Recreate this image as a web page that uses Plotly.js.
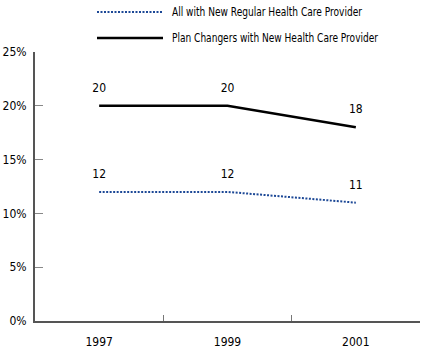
<!DOCTYPE html>
<html><head><meta charset="utf-8">
<script src="https://cdn.plot.ly/plotly-3.0.1.min.js"></script>
<style>html,body{margin:0;padding:0;background:#fff}#c{width:425px;height:352px}</style>
</head><body><div id="c"></div>
<script>
const years = ['1997', '1999', '2001'];
const allNewProvider = [12, 12, 11];
const planChangers = [20, 20, 18];
const seriesNames = ['All with New Regular Health Care Provider', 'Plan Changers with New Health Care Provider'];
const yTicks = [0, 5, 10, 15, 20, 25];
const yTickText = ['0%', '5%', '10%', '15%', '20%', '25%'];

const cond = 'DejaVu Sans Condensed, sans-serif';
const dotDash = '2px,1.5px';

const traces = [
  {x: years, y: allNewProvider, mode: 'lines+markers+text', text: allNewProvider.map(String),
   textposition: 'top center', textfont: {family: cond, size: 12, color: '#000'},
   marker: {size: 16, color: 'rgba(0,0,0,0)'},
   line: {color: '#1c4896', width: 2, dash: dotDash}, name: seriesNames[0], cliponaxis: false},
  {x: years, y: planChangers, mode: 'lines+markers+text', text: planChangers.map(String),
   textposition: 'top center', textfont: {family: cond, size: 12, color: '#000'},
   marker: {size: 16, color: 'rgba(0,0,0,0)'},
   line: {color: '#000', width: 2.5}, name: seriesNames[1], cliponaxis: false}
];

const layout = {
  width: 425, height: 352,
  margin: {l: 35, r: 5, t: 52, b: 31},
  paper_bgcolor: '#fff', plot_bgcolor: '#fff',
  showlegend: false,
  xaxis: {type: 'category', range: [-0.5, 2.5], tickson: 'boundaries', ticks: 'inside', ticklen: 6,
    tickcolor: '#777', showline: true, linecolor: '#555', linewidth: 2, showgrid: false, zeroline: false,
    ticklabelstandoff: 9,
    tickfont: {family: cond, size: 12, color: '#000'}, fixedrange: true},
  yaxis: {range: [0, 25], tickvals: yTicks, ticktext: yTickText, ticks: 'inside', ticklen: 8,
    tickcolor: '#888', showline: true, linecolor: '#555', linewidth: 2, showgrid: false, zeroline: false,
    ticklabelstandoff: 4,
    tickfont: {family: cond, size: 12, color: '#000'}, fixedrange: true},
  shapes: [
    {type: 'line', xref: 'paper', yref: 'paper', x0: (97-35)/385, x1: (163-35)/385,
     y0: (321-12)/269, y1: (321-12)/269, line: {color: '#1c4896', width: 2, dash: dotDash}},
    {type: 'line', xref: 'paper', yref: 'paper', x0: (97-35)/385, x1: (163-35)/385,
     y0: (321-38)/269, y1: (321-38)/269, line: {color: '#000', width: 2.5}}
  ],
  annotations: [
    {xref: 'paper', yref: 'paper', x: (170-35)/385, y: (321-12)/269, xanchor: 'left', yanchor: 'middle', align: 'left',
     text: seriesNames[0], showarrow: false, font: {family: cond, size: 12, color: '#000'}},
    {xref: 'paper', yref: 'paper', x: (170-35)/385, y: (321-38)/269, xanchor: 'left', yanchor: 'middle', align: 'left',
     text: seriesNames[1], showarrow: false, font: {family: cond, size: 12, color: '#000'}}
  ]
};
const legendWidths = [190, 206];
Plotly.newPlot('c', traces, layout, {displayModeBar: false, staticPlot: true}).then(function () {
  document.querySelectorAll('#c .annotation-text').forEach(function (t, i) {
    t.setAttribute('textLength', legendWidths[i]);
    t.setAttribute('lengthAdjust', 'spacingAndGlyphs');
  });
});
</script></body></html>
